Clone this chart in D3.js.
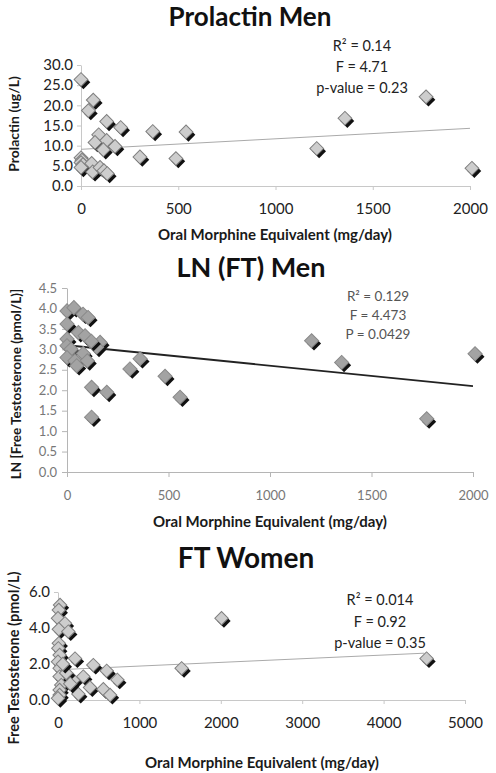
<!DOCTYPE html>
<html><head><meta charset="utf-8">
<script src="https://cdn.jsdelivr.net/npm/d3@7"></script>
<style>
html,body{margin:0;padding:0;background:#fff;}
svg{display:block;font-family:Lato,"Open Sans",sans-serif;}
</style></head>
<body>
<svg id="chart" width="496" height="773"></svg>
<script>
// ---------- DATA ----------
// Panel 1: Prolactin Men
const prolactinOME = [0, 63, 38, 132, 204, 369, 540, 91, 72, 132, 115, 175, 303, 488, 0, 5, 0, 10, 0, 55, 60, 98, 118, 135, 1357, 1212, 1774, 2010];
const prolactinValues = [26.4, 21.3, 18.7, 16.0, 14.5, 13.5, 13.4, 12.7, 10.8, 11.3, 9.0, 9.8, 7.2, 6.8, 7.0, 6.4, 5.8, 5.3, 4.6, 5.6, 3.5, 4.6, 3.8, 3.1, 16.8, 9.3, 22.1, 4.4];
const prolactinTrendX = [0, 2000];
const prolactinTrendY = [9.1, 14.3];
const prolactinXTicks = [0, 500, 1000, 1500, 2000];
const prolactinYTicks = [0, 5, 10, 15, 20, 25, 30];
const prolactinStats = ["R² = 0.14", "F = 4.71", "p-value = 0.23"];

// Panel 2: LN (FT) Men
const lnftOME = [0, 34, 79, 104, 0, 56, 89, 0, 0, 163, 146, 20, 120, 80, 0, 39, 100, 48, 360, 310, 483, 121, 196, 557, 1205, 1353, 2010, 121, 1772];
const lnftValues = [3.94, 4.02, 3.86, 3.78, 3.62, 3.41, 3.33, 3.25, 3.09, 3.17, 3.05, 3.0, 3.2, 2.9, 2.8, 2.72, 2.72, 2.6, 2.77, 2.52, 2.34, 2.07, 1.95, 1.83, 3.21, 2.68, 2.89, 1.34, 1.3];
const lnftTrendX = [0, 2000];
const lnftTrendY = [3.1, 2.1];
const lnftXTicks = [0, 500, 1000, 1500, 2000];
const lnftYTicks = [0, 0.5, 1, 1.5, 2, 2.5, 3, 3.5, 4, 4.5];
const lnftStats = ["R² = 0.129", "F = 4.473", "P = 0.0429"];

// Panel 3: FT Women
const ftwOME = [25, 10, 0, 86, 10, 127, 10, 4, 20, 209, 0, 20, 434, 598, 311, 729, 20, 40, 188, 393, 557, 20, 250, 20, 639, 2009, 1519, 4528, 100, 60, 150, 0];
const ftwValues = [5.28, 5.0, 4.54, 4.26, 3.93, 3.8, 3.15, 2.87, 2.5, 2.3, 2.13, 1.76, 1.94, 1.62, 1.3, 1.12, 1.3, 0.83, 1.1, 0.7, 0.6, 0.56, 0.33, 0.28, 0.28, 4.54, 1.76, 2.3, 1.5, 2.0, 0.9, 0.1];
const ftwTrendX = [0, 4500];
const ftwTrendY = [1.68, 2.6];
const ftwXTicks = [0, 1000, 2000, 3000, 4000, 5000];
const ftwYTicks = [0, 2, 4, 6];
const ftwStats = ["R² = 0.014", "F = 0.92", "p-value = 0.35"];

const titles = ["Prolactin Men", "LN (FT) Men", "FT Women"];
const yTitles = ["Prolactin (ug/L)", "LN [Free Testosterone (pmol/L)]", "Free Testosterone (pmol/L)"];
const xTitle = "Oral Morphine Equivalent (mg/day)";

// ---------- DRAW ----------
const svg = d3.select("#chart");
const fmt = d3.format(".1f");

function panel(cfg) {
  const g = svg.append("g");
  const x = d3.scaleLinear().domain(cfg.xDomain).range(cfg.xRange);
  const y = d3.scaleLinear().domain(cfg.yDomain).range(cfg.yRange);

  // title
  g.append("text").attr("x", cfg.titleX).attr("y", cfg.titleY)
    .attr("text-anchor", "middle").attr("font-weight", 700)
    .attr("font-size", cfg.titleSize).attr("fill", "#111").text(cfg.title);

  // axes
  const ya = g.append("g").attr("transform", `translate(${cfg.xRange[0]},0)`)
    .call(d3.axisLeft(y).tickValues(cfg.yTicks).tickFormat(fmt).tickSize(cfg.tickLen).tickSizeOuter(0).tickPadding(cfg.yPad));
  const xa = g.append("g").attr("transform", `translate(0,${cfg.yRange[0]})`)
    .call(d3.axisBottom(x).tickValues(cfg.xTicks).tickFormat(d3.format("d")).tickSize(cfg.tickLen).tickSizeOuter(0).tickPadding(cfg.xPad));
  [ya, xa].forEach(a => {
    a.select(".domain").attr("stroke", cfg.axisColor);
    a.selectAll(".tick line").attr("stroke", cfg.axisColor);
    a.selectAll(".tick text").attr("font-family", "Lato, sans-serif")
      .attr("font-size", cfg.tickFont).attr("fill", cfg.tickColor);
  });

  // axis titles
  g.append("text").attr("x", cfg.xTitleX).attr("y", cfg.xTitleY)
    .attr("text-anchor", "middle").attr("font-weight", 700)
    .attr("font-size", cfg.axisTitleSize).attr("fill", "#1a1a1a").text(xTitle);
  g.append("text")
    .attr("transform", `translate(${cfg.yTitleX},${cfg.yTitleY}) rotate(-90)`)
    .attr("text-anchor", "middle").attr("font-weight", 700)
    .attr("font-size", cfg.yTitleSize).attr("fill", "#1a1a1a").text(cfg.yTitle);

  // trend line
  const pts = cfg.trendX.map((v, i) => [v, cfg.trendY[i]]);
  g.append("path")
    .attr("d", d3.line().x(d => x(d[0])).y(d => y(d[1]))(pts))
    .attr("fill", "none").attr("stroke", cfg.lineColor).attr("stroke-width", cfg.lineWidth);

  // markers
  const sym = d3.symbol().type(d3.symbolSquare).size(cfg.markSize);
  const data = cfg.xs.map((v, i) => [v, cfg.ys[i]]);
  const m = g.append("g");
  const grp = m.selectAll("g").data(data).join("g")
    .attr("transform", d => `translate(${x(d[0])},${y(d[1])})`);
  grp.append("path").attr("d", sym()).attr("transform", "translate(2.4,2.8) rotate(45)")
    .attr("fill", "#111");
  grp.append("path").attr("d", sym()).attr("transform", "rotate(45)")
    .attr("fill", cfg.markFill).attr("stroke", cfg.markStroke).attr("stroke-width", 1);

  // stats
  const st = g.append("g");
  cfg.stats.forEach((s, i) => {
    st.append("text").attr("x", cfg.statX).attr("y", cfg.statY + i * cfg.statGap)
      .attr("text-anchor", "middle").attr("font-size", cfg.statSize)
      .attr("fill", cfg.statColor).text(s);
  });
}

panel({
  title: titles[0], titleX: 250, titleY: 26, titleSize: 26,
  xDomain: [0, 2000], xRange: [81, 470], yDomain: [0, 30], yRange: [186, 65],
  xTicks: prolactinXTicks, yTicks: prolactinYTicks, tickLen: 4, yPad: 4, xPad: 13,
  axisColor: "#c8c8c8", tickFont: 15, tickColor: "#222",
  xTitleX: 275, xTitleY: 240, axisTitleSize: 15,
  yTitle: yTitles[0], yTitleX: 19, yTitleY: 124, yTitleSize: 14,
  trendX: prolactinTrendX, trendY: prolactinTrendY, lineColor: "#aaa", lineWidth: 1,
  xs: prolactinOME, ys: prolactinValues, markSize: 95, markFill: "#cdcdcd", markStroke: "#7f7f7f",
  stats: prolactinStats, statX: 362, statY: 51, statGap: 21, statSize: 14.5, statColor: "#222"
});

panel({
  title: titles[1], titleX: 251, titleY: 277, titleSize: 27,
  xDomain: [0, 2000], xRange: [67, 473], yDomain: [0, 4.5], yRange: [472, 288],
  xTicks: lnftXTicks, yTicks: lnftYTicks, tickLen: 5, yPad: 5, xPad: 14,
  axisColor: "#b5b5b5", tickFont: 13, tickColor: "#777",
  xTitleX: 270, xTitleY: 527, axisTitleSize: 15,
  yTitle: yTitles[1], yTitleX: 21, yTitleY: 384, yTitleSize: 13.5,
  trendX: lnftTrendX, trendY: lnftTrendY, lineColor: "#222", lineWidth: 1.8,
  xs: lnftOME, ys: lnftValues, markSize: 100, markFill: "#a3a3a3", markStroke: "#8a8a8a",
  stats: lnftStats, statX: 378, statY: 301, statGap: 19, statSize: 13.5, statColor: "#555"
});

panel({
  title: titles[2], titleX: 246, titleY: 568, titleSize: 28,
  xDomain: [0, 5000], xRange: [58, 465], yDomain: [0, 6], yRange: [700, 592],
  xTicks: ftwXTicks, yTicks: ftwYTicks, tickLen: 4, yPad: 4, xPad: 13,
  axisColor: "#c8c8c8", tickFont: 15, tickColor: "#222",
  xTitleX: 262, xTitleY: 768, axisTitleSize: 15,
  yTitle: yTitles[2], yTitleX: 19, yTitleY: 658, yTitleSize: 14.5,
  trendX: ftwTrendX, trendY: ftwTrendY, lineColor: "#aaa", lineWidth: 1,
  xs: ftwOME, ys: ftwValues, markSize: 90, markFill: "#cdcdcd", markStroke: "#7f7f7f",
  stats: ftwStats, statX: 380, statY: 605, statGap: 21.5, statSize: 14.5, statColor: "#222"
});
</script>
</body></html>
